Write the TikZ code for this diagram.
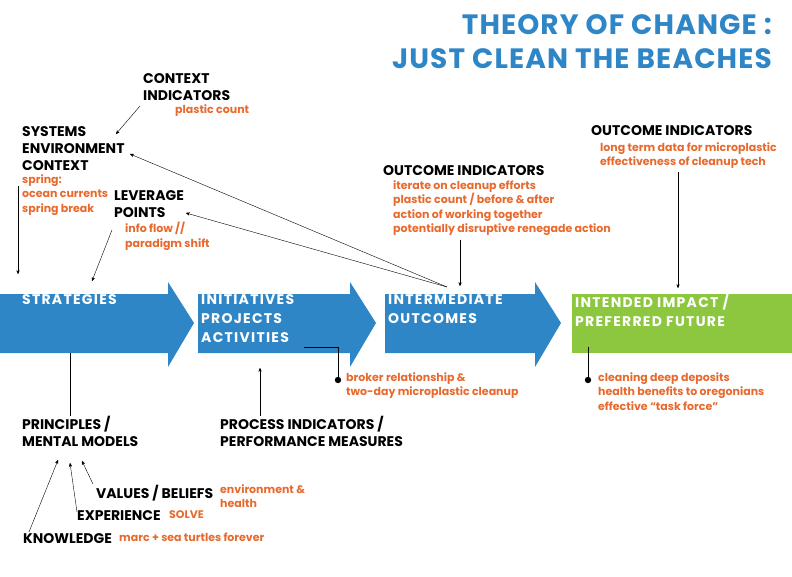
\documentclass[tikz,border=0pt]{standalone}
\usepackage{fontspec}
\setmainfont{Poppins}
\usetikzlibrary{positioning,arrows}
\definecolor{tocblue}{HTML}{2F86C6}
\definecolor{tocgreen}{HTML}{8DC63F}
\definecolor{tocorange}{HTML}{E8692D}
\tikzset{
  head/.style={inner sep=0pt, anchor=north west, align=left, font=\fontsize{14}{17}\selectfont\bfseries},
  note/.style={inner sep=0pt, anchor=north west, align=left, text=tocorange, font=\fontsize{11}{14.5}\selectfont\bfseries},
  band/.style={inner sep=0pt, anchor=north west, align=left, text=white, font=\fontsize{14}{19}\selectfont\bfseries\addfontfeatures{LetterSpace=9}},
  link/.style={draw, thin, ->, >=stealth'},
}
\begin{document}
\begin{tikzpicture}[x=1pt,y=-1pt]
\useasboundingbox (0,0) rectangle (792,576);
% title
\node (title) [inner sep=0pt, anchor=north east, align=right, text=tocblue,
  font=\fontsize{28}{34}\selectfont\bfseries\addfontfeatures{LetterSpace=4}] at (772,14) {THEORY OF CHANGE :\\JUST CLEAN THE BEACHES};
% arrows
\fill[tocblue] (0,294) -- (168,294) -- (168,282) -- (194,323) -- (168,367) -- (168,353) -- (0,353) -- cycle;
\fill[tocblue] (198,294) -- (350,294) -- (350,282) -- (376,323) -- (350,367) -- (350,353) -- (198,353) -- cycle;
\fill[tocblue] (385,294) -- (535,294) -- (535,282) -- (561,323) -- (535,367) -- (535,353) -- (385,353) -- cycle;
\fill[tocgreen] (572,294) rectangle (792,353);
\node (strat) [band] at (22,294) {STRATEGIES};
\node (init) [band] at (201,294) {INITIATIVES\\PROJECTS\\ACTIVITIES};
\node (inter) [band] at (388,294) {INTERMEDIATE\\OUTCOMES};
\node (impact) [band] at (575,294) {INTENDED IMPACT /\\PREFERRED FUTURE};
% top labels
\node (ctx) [head] at (143,73) {CONTEXT\\INDICATORS};
\node (ctxn) [note] at (175,104) {plastic count};
\node (sys) [head] at (22,126) {SYSTEMS\\ENVIRONMENT\\CONTEXT};
\node (sysn) [note] at (22,174) {spring:\\ocean currents\\spring break};
\node (lev) [head] at (114,190) {LEVERAGE\\POINTS};
\node (levn) [note] at (125,222) {info flow //\\paradigm shift};
\node (oi) [head] at (383,165) {OUTCOME INDICATORS};
\node (oin) [note] at (393,180) {iterate on cleanup efforts\\plastic count / before \& after\\action of working together\\potentially disruptive renegade action};
\node (oi2) [head] at (591,125) {OUTCOME INDICATORS};
\node (oi2n) [note] at (600,142) {long term data for microplastic\\effectiveness of cleanup tech};
% bottom labels
\node (prin) [head] at (22,416) {PRINCIPLES /\\MENTAL MODELS};
\node (proc) [head] at (220,416) {PROCESS INDICATORS /\\PERFORMANCE MEASURES};
\node (brok) [note] at (346,372) {broker relationship \&\\two-day microplastic cleanup};
\node (clean) [note] at (598,372) {cleaning deep deposits\\health benefits to oregonians\\effective ``task force''};
\node (val) [head] at (96,485) {VALUES / BELIEFS};
\node (valn) [note] at (220,484) {environment \&\\health};
\node (exp) [head] at (77,510) {EXPERIENCE};
\node (expn) [note] at (169,510) {SOLVE};
\node (know) [head] at (23,533) {KNOWLEDGE};
\node (known) [note] at (119,533) {marc + sea turtles forever};
% connectors
\coordinate (hub) at (447,287);
\draw[link] (140,106) -- (116,134);
\draw[link] (hub) -- (130,154);
\draw[link] (hub) -- (186,213);
\draw[link] (460,240) -- (460,286);
\draw[link] (678,172) -- (678,288);
\draw[link] (18,186) -- (18,274);
\draw[link] (112,230) -- (92,281);
\draw (70,353) -- (70,416);
\draw[link] (260,416) -- (260,368);
\draw (304,347) -- (338,347) -- (338,380);
\fill (338,380) circle (3.2);
\draw (588,347) -- (588,380);
\fill (588,380) circle (3.2);
\draw[link] (29,532) -- (58,460);
\draw[link] (77,512) -- (70,463);
\draw[link] (93,484) -- (82,461);
\end{tikzpicture}
\end{document}
